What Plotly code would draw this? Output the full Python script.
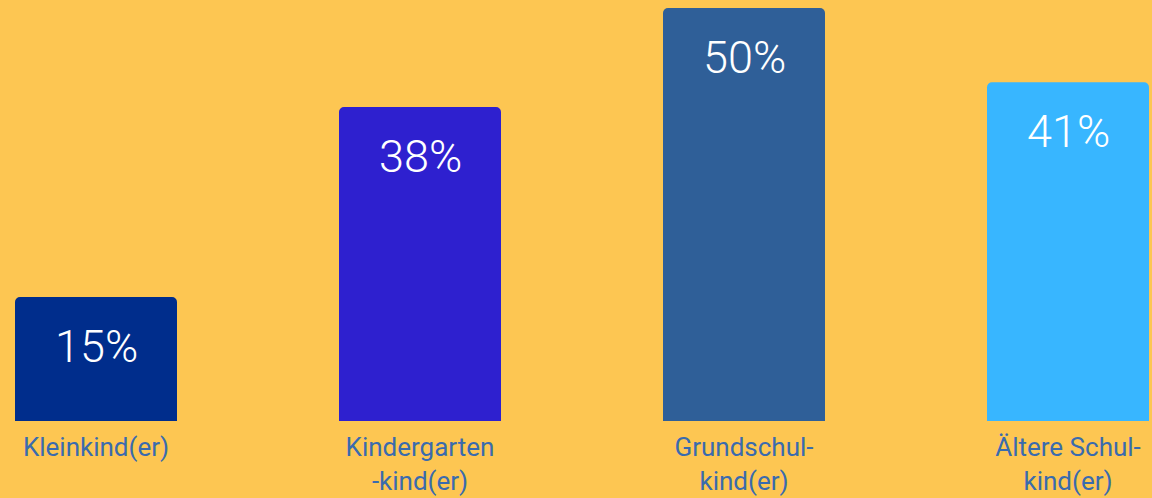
import plotly.graph_objects as go

categories = ["Kleinkind(er)", "Kindergarten<br>-kind(er)", "Grundschul-<br>kind(er)", "Ältere Schul-<br>kind(er)"]
values = [15, 38, 50, 41]
labels = ["15%", "38%", "50%", "41%"]
colors = ["#002D8C", "#2E20CF", "#2F5F98", "#38B6FF"]

fig = go.Figure()
fig.add_trace(go.Bar(
    x=list(range(len(categories))), y=values,
    marker=dict(color=colors, line=dict(width=0), cornerradius=5),
    width=0.5, hoverinfo="skip",
))
for i, (v, t) in enumerate(zip(values, labels)):
    fig.add_annotation(x=i, y=v, text=t, showarrow=False, yanchor="middle",
                       yshift=-49, font=dict(family="Roboto", size=45, color="white", weight=300))

fig.update_layout(
    width=1152, height=498,
    paper_bgcolor="#FDC652", plot_bgcolor="#FDC652",
    margin=dict(l=15, r=3, t=8, b=77, autoexpand=False),
    showlegend=False,
    xaxis=dict(range=[-0.25, 3.25], tickmode="array", tickvals=list(range(len(categories))),
               ticktext=categories, showgrid=False, zeroline=False, showline=False,
               ticks="", ticklabelstandoff=8, automargin=False,
               tickfont=dict(family="Roboto", size=26, color="#3A6BAE")),
    yaxis=dict(range=[0, 50], visible=False, showgrid=False, zeroline=False),
)
fig.write_html("out.html", config={"displayModeBar": False},
               post_script="document.body.style.margin='0';document.body.style.background='#FDC652';")
